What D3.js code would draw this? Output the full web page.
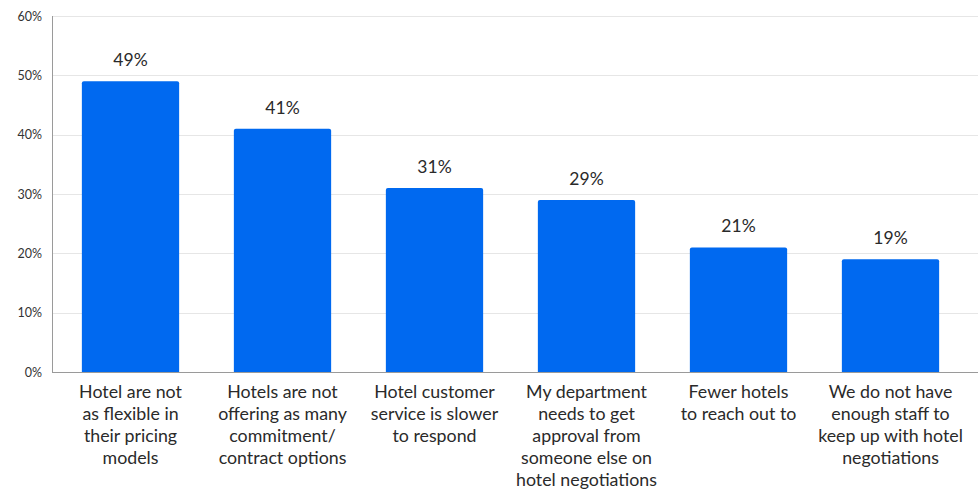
<!DOCTYPE html>
<html><head><meta charset="utf-8">
<script src="https://cdn.jsdelivr.net/npm/d3@7"></script>
<style>body{margin:0;background:#fff;}svg{display:block;font-family:Lato,"Open Sans",sans-serif;}</style>
</head><body><svg id="c" width="978" height="490"></svg>
<script>
const categories = [
  ["Hotel are not","as flexible in","their pricing","models"],
  ["Hotels are not","offering as many","commitment/","contract options"],
  ["Hotel customer","service is slower","to respond"],
  ["My department","needs to get","approval from","someone else on","hotel negotiations"],
  ["Fewer hotels","to reach out to"],
  ["We do not have","enough staff to","keep up with hotel","negotiations"]
];
const values = [49, 41, 31, 29, 21, 19];
const yTicks = [0, 10, 20, 30, 40, 50, 60];

const svg = d3.select("#c");
const m = {l:54.5, r:11.5, t:16, b:118};
const W = 978, H = 490;
const x = d3.scaleBand().domain(d3.range(values.length)).range([m.l, W - m.r]).paddingInner(0.36).paddingOuter(0.18);
const y = d3.scaleLinear().domain([0, 60]).range([H - m.b, m.t]);

// gridlines
svg.append("g").selectAll("line").data(yTicks.filter(d=>d>0)).join("line")
  .attr("x1", 52).attr("x2", W).attr("y1", d=>Math.round(y(d))+0.5).attr("y2", d=>Math.round(y(d))+0.5)
  .attr("stroke", "#e6e6e6").attr("stroke-width", 1);

// y axis labels
const ya = svg.append("g").attr("transform", "translate(52,0)")
  .call(d3.axisLeft(y).tickValues(yTicks).tickFormat(d=>d+"%").tickSize(0).tickPadding(10));
ya.select(".domain").remove();
ya.selectAll("text").attr("font-family","Lato,sans-serif").attr("font-size", 12.5).attr("fill", "#333");

// bars
const barPath = (x0, w, y0, y1, r) =>
  `M${x0},${y1}V${y0+r}Q${x0},${y0} ${x0+r},${y0}H${x0+w-r}Q${x0+w},${y0} ${x0+w},${y0+r}V${y1}Z`;
svg.append("g").selectAll("path").data(values).join("path")
  .attr("d", (d,i)=>barPath(x(i), x.bandwidth(), y(d), y(0), 2))
  .attr("fill", "#0069f0");

// value labels
svg.append("g").selectAll("text").data(values).join("text")
  .attr("x", (d,i)=>x(i)+x.bandwidth()/2).attr("y", d=>y(d)-15)
  .attr("text-anchor","middle").attr("font-size", 17.5).attr("fill","#2a2a2a").text(d=>d+"%");

// axes lines
svg.append("line").attr("x1",52.5).attr("x2",52.5).attr("y1",m.t).attr("y2",y(0)).attr("stroke","#9a9a9a");
svg.append("line").attr("x1",52).attr("x2",W).attr("y1",y(0)+0.5).attr("y2",y(0)+0.5).attr("stroke","#9a9a9a");

// category labels
const cg = svg.append("g").selectAll("text").data(categories).join("text")
  .attr("text-anchor","middle").attr("font-size", 17.8).attr("fill","#2a2a2a")
  .attr("transform", (d,i)=>`translate(${x(i)+x.bandwidth()/2},${y(0)+26})`);
cg.selectAll("tspan").data(d=>d).join("tspan").attr("x",0).attr("dy",(d,j)=>j===0?0:22).text(d=>d);
</script></body></html>
